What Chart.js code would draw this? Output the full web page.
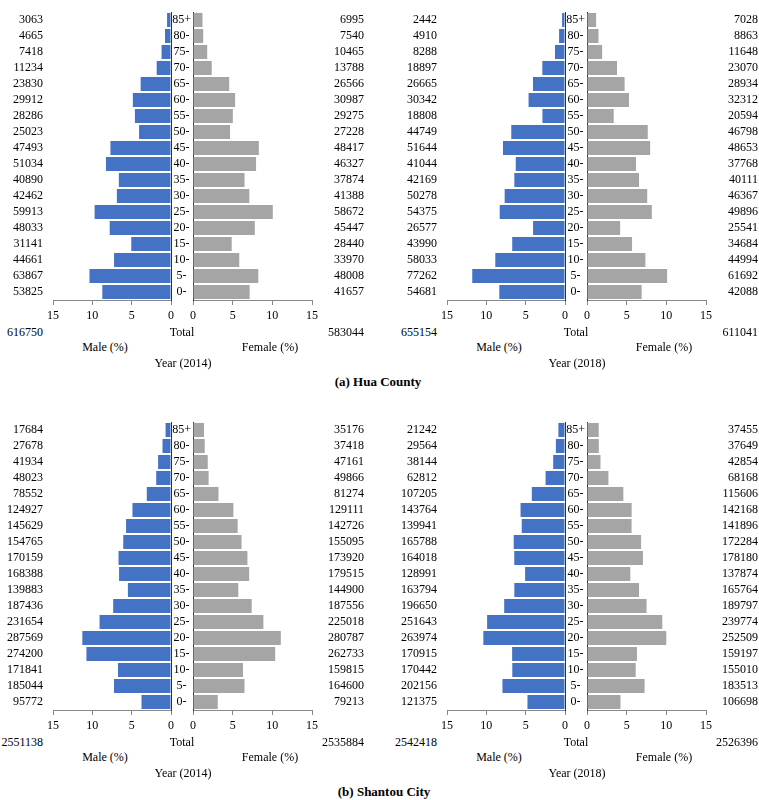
<!DOCTYPE html>
<html>
<head>
<meta charset="utf-8">
<script src="https://cdn.jsdelivr.net/npm/chart.js@4.4.0/dist/chart.umd.min.js"></script>
<style>
  body { margin: 0; background: #fff; }
  #wrap { position: relative; width: 759px; height: 800px; overflow: hidden; font-family: 'Liberation Serif', 'Times New Roman', serif; color: #000; }
  #wrap canvas { position: absolute; }
  .txt { position: absolute; font-size: 12px; line-height: 16px; height: 16px; white-space: nowrap; }
  .c { transform: translateX(-50%); }
  .r { transform: translateX(-100%); }
  .cap { font-weight: bold; font-size: 13px; }
</style>
</head>
<body>
<div id="wrap"></div>
<script>
// age groups, top to bottom
const ageGroups = ['85+', '80-', '75-', '70-', '65-', '60-', '55-', '50-', '45-', '40-', '35-', '30-', '25-', '20-', '15-', '10-', '5-', '0-'];

// Hua County
const huaMale2014 = [3063, 4665, 7418, 11234, 23830, 29912, 28286, 25023, 47493, 51034, 40890, 42462, 59913, 48033, 31141, 44661, 63867, 53825];
const huaFemale2014 = [6995, 7540, 10465, 13788, 26566, 30987, 29275, 27228, 48417, 46327, 37874, 41388, 58672, 45447, 28440, 33970, 48008, 41657];
const huaMalePct2014 = [0.50, 0.76, 1.20, 1.82, 3.86, 4.85, 4.59, 4.06, 7.70, 8.27, 6.63, 6.88, 9.71, 7.79, 5.05, 7.24, 10.36, 8.73];
const huaFemalePct2014 = [1.20, 1.29, 1.79, 2.36, 4.56, 5.31, 5.02, 4.67, 8.30, 7.95, 6.50, 7.10, 10.06, 7.79, 4.88, 5.83, 8.23, 7.14];
const huaTotals2014 = [616750, 583044];

const huaMale2018 = [2442, 4910, 8288, 18897, 26665, 30342, 18808, 44749, 51644, 41044, 42169, 50278, 54375, 26577, 43990, 58033, 77262, 54681];
const huaFemale2018 = [7028, 8863, 11648, 23070, 28934, 32312, 20594, 46798, 48653, 37768, 40111, 46367, 49896, 25541, 34684, 44994, 61692, 42088];
const huaMalePct2018 = [0.37, 0.75, 1.27, 2.88, 4.07, 4.63, 2.87, 6.83, 7.88, 6.26, 6.44, 7.67, 8.30, 4.06, 6.71, 8.86, 11.79, 8.35];
const huaFemalePct2018 = [1.15, 1.45, 1.91, 3.78, 4.74, 5.29, 3.37, 7.66, 7.96, 6.18, 6.56, 7.59, 8.17, 4.18, 5.68, 7.36, 10.10, 6.89];
const huaTotals2018 = [655154, 611041];

// Shantou City
const stMale2014 = [17684, 27678, 41934, 48023, 78552, 124927, 145629, 154765, 170159, 168388, 139883, 187436, 231654, 287569, 274200, 171841, 185044, 95772];
const stFemale2014 = [35176, 37418, 47161, 49866, 81274, 129111, 142726, 155095, 173920, 179515, 144900, 187556, 225018, 280787, 262733, 159815, 164600, 79213];
const stMalePct2014 = [0.69, 1.08, 1.64, 1.88, 3.08, 4.90, 5.71, 6.07, 6.67, 6.60, 5.48, 7.35, 9.08, 11.27, 10.75, 6.74, 7.25, 3.75];
const stFemalePct2014 = [1.39, 1.48, 1.86, 1.97, 3.21, 5.09, 5.63, 6.12, 6.86, 7.08, 5.71, 7.40, 8.87, 11.07, 10.36, 6.30, 6.49, 3.12];
const stTotals2014 = [2551138, 2535884];

const stMale2018 = [21242, 29564, 38144, 62812, 107205, 143764, 139941, 165788, 164018, 128991, 163794, 196650, 251643, 263974, 170915, 170442, 202156, 121375];
const stFemale2018 = [37455, 37649, 42854, 68168, 115606, 142168, 141896, 172284, 178180, 137874, 165764, 189797, 239774, 252509, 159197, 155010, 183513, 106698];
const stMalePct2018 = [0.84, 1.16, 1.50, 2.47, 4.22, 5.65, 5.50, 6.52, 6.45, 5.07, 6.44, 7.73, 9.90, 10.38, 6.72, 6.70, 7.95, 4.77];
const stFemalePct2018 = [1.48, 1.49, 1.70, 2.70, 4.58, 5.63, 5.62, 6.82, 7.05, 5.46, 6.56, 7.51, 9.49, 9.99, 6.30, 6.14, 7.26, 4.22];
const stTotals2018 = [2542418, 2526396];

Chart.defaults.font.family = "'Liberation Serif', 'Times New Roman', serif";
Chart.defaults.font.size = 12;
Chart.defaults.color = '#000';

const wrap = document.getElementById('wrap');

function addText(str, x, y, cls) {
  const d = document.createElement('div');
  d.className = 'txt ' + (cls || '');
  d.textContent = str;
  d.style.left = x + 'px';
  d.style.top = (y - 8) + 'px';
  wrap.appendChild(d);
}

function addCanvas(x, y, w, h) {
  const c = document.createElement('canvas');
  c.width = w;
  c.height = h;
  c.style.left = x + 'px';
  c.style.top = y + 'px';
  c.style.width = w + 'px';
  c.style.height = h + 'px';
  wrap.appendChild(c);
  return c;
}

function xScale(reverse) {
  return {
    type: 'linear', min: 0, max: 15, reverse: reverse,
    ticks: { stepSize: 5, padding: 4, color: '#000' },
    grid: { drawOnChartArea: false, drawTicks: true, tickLength: 5, color: '#888' },
    border: { display: true, color: '#888' },
    afterFit: s => { s.height = 22; s.paddingLeft = 0; s.paddingRight = 0; }
  };
}

function baseOpts(padRight) {
  return {
    indexAxis: 'y',
    responsive: false,
    animation: false,
    devicePixelRatio: 1,
    layout: { padding: { top: 12, left: 0, right: padRight, bottom: 0 } },
    plugins: { legend: { display: false }, tooltip: { enabled: false } }
  };
}

function pyramid(ox, oy, maleCounts, malePct, femaleCounts, femalePct, totals, year) {
  // male side (canvas a bit wider so the "0" tick label is not cut)
  new Chart(addCanvas(ox, oy, 180, 322), {
    type: 'bar',
    data: {
      labels: ageGroups,
      datasets: [{ data: malePct, backgroundColor: '#4472C4', barPercentage: 0.88, categoryPercentage: 1 }]
    },
    options: {
      ...baseOpts(9),
      scales: {
        x: xScale(true),
        y: {
          position: 'right', offset: true,
          ticks: { display: false },
          grid: { display: false, drawTicks: false },
          border: { display: true, color: '#333' },
          afterFit: s => { s.width = 0; s.paddingTop = 0; s.paddingBottom = 0; }
        },
        yCount: {
          type: 'category', display: true, position: 'left', offset: true,
          labels: maleCounts.map(String),
          ticks: { autoSkip: false, padding: 10 },
          grid: { display: false, drawTicks: false },
          border: { display: false },
          afterFit: s => { s.width = 53; s.paddingTop = 0; s.paddingBottom = 0; }
        }
      }
    }
  });

  // female side, age labels in the middle
  new Chart(addCanvas(ox + 171, oy, 193, 322), {
    type: 'bar',
    data: {
      labels: ageGroups,
      datasets: [{ data: femalePct, backgroundColor: '#A5A5A5', barPercentage: 0.88, categoryPercentage: 1 }]
    },
    options: {
      ...baseOpts(0),
      scales: {
        x: xScale(false),
        y: {
          position: 'left', offset: true,
          ticks: { autoSkip: false, crossAlign: 'center', padding: 2 },
          grid: { display: false, drawTicks: false },
          border: { display: true, color: '#333' },
          afterFit: s => { s.width = 22; s.paddingTop = 0; s.paddingBottom = 0; }
        },
        yCount: {
          type: 'category', display: true, position: 'right', offset: true,
          labels: femaleCounts.map(String),
          ticks: { autoSkip: false, crossAlign: 'far' },
          grid: { display: false, drawTicks: false },
          border: { display: false },
          afterFit: s => { s.width = 52; s.paddingTop = 0; s.paddingBottom = 0; }
        }
      }
    }
  });

  addText(String(totals[0]), ox + 43, oy + 332, 'r');
  addText('Total', ox + 182, oy + 332, 'c');
  addText(String(totals[1]), ox + 364, oy + 332, 'r');
  addText('Male (%)', ox + 105, oy + 347, 'c');
  addText('Female (%)', ox + 270, oy + 347, 'c');
  addText('Year (' + year + ')', ox + 183, oy + 363, 'c');
}

pyramid(0, 0, huaMale2014, huaMalePct2014, huaFemale2014, huaFemalePct2014, huaTotals2014, 2014);
pyramid(394, 0, huaMale2018, huaMalePct2018, huaFemale2018, huaFemalePct2018, huaTotals2018, 2018);
pyramid(0, 410, stMale2014, stMalePct2014, stFemale2014, stFemalePct2014, stTotals2014, 2014);
pyramid(394, 410, stMale2018, stMalePct2018, stFemale2018, stFemalePct2018, stTotals2018, 2018);

addText('(a) Hua County', 378, 382, 'c cap');
addText('(b) Shantou City', 384, 792, 'c cap');
</script>
</body>
</html>
